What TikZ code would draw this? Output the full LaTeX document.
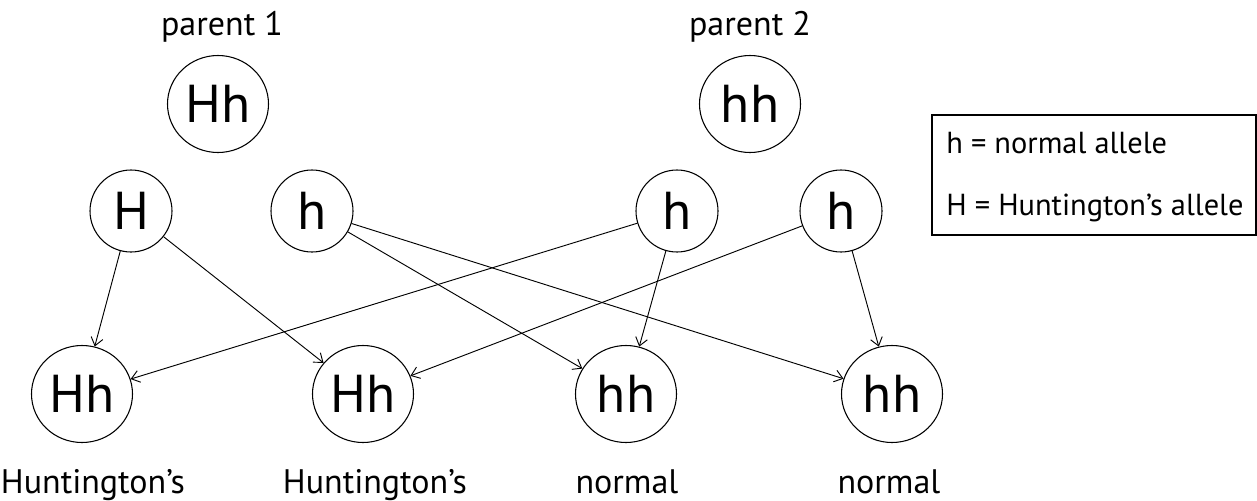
\documentclass[tikz,border=0pt]{standalone}
\usepackage{fontspec}
\setmainfont{PT Sans}
\usetikzlibrary{shapes.geometric,arrows.meta}
\begin{document}
\begin{tikzpicture}[x=0.75pt,y=-0.75pt,
  parentnode/.style={draw, ellipse, minimum width=75.75pt, minimum height=72.75pt, inner sep=0pt, line width=0.8pt, font=\fontsize{40}{44}\selectfont},
  gamete/.style={draw, circle, minimum size=61.5pt, inner sep=0pt, line width=0.8pt, font=\fontsize{40}{44}\selectfont},
  child/.style={draw, ellipse, minimum width=75.75pt, minimum height=72.75pt, inner sep=0pt, line width=0.8pt, font=\fontsize{40}{44}\selectfont},
  lbl/.style={inner sep=0pt, anchor=base, font=\fontsize{25.5}{28}\selectfont},
  legtext/.style={inner sep=0pt, anchor=base west, font=\fontsize{22.8}{28}\selectfont},
  arr/.style={-{Straight Barb[length=6pt,width=9pt]}, line width=0.7pt}]
\useasboundingbox (0,0) rectangle (1257,500);
% labels
\node[lbl] (lp1) at (222,35) {parent 1};
\node[lbl] (lp2) at (750,35) {parent 2};
% parents
\node[parentnode] (p1) at (218,104) {Hh};
\node[parentnode] (p2) at (750,104) {hh};
% gametes
\node[gamete] (g1) at (131,211) {H};
\node[gamete] (g2) at (312,211) {h};
\node[gamete] (g3) at (677,211) {h};
\node[gamete] (g4) at (841,211) {h};
% children
\node[child] (c1) at (82,394) {Hh};
\node[child] (c2) at (363,394) {Hh};
\node[child] (c3) at (626,394) {hh};
\node[child] (c4) at (892,394) {hh};
% bottom labels
\node[lbl] (l1) at (93,493) {Huntington’s};
\node[lbl] (l2) at (375,493) {Huntington’s};
\node[lbl] (l3) at (627,493) {normal};
\node[lbl] (l4) at (889,493) {normal};
% arrows
\draw[arr] (g1) -- (c1);
\draw[arr] (g1) -- (c2);
\draw[arr] (g2) -- (c3);
\draw[arr] (g2) -- (c4);
\draw[arr] (g3) -- (c1);
\draw[arr] (g3) -- (c3);
\draw[arr] (g4) -- (c2);
\draw[arr] (g4) -- (c4);
% legend
\draw[line width=0.8pt] (932,115) rectangle (1256,235);
\node[legtext] (k1) at (946,153) {h = normal allele};
\node[legtext] (k2) at (946,215) {H = Huntington’s allele};
\end{tikzpicture}
\end{document}
